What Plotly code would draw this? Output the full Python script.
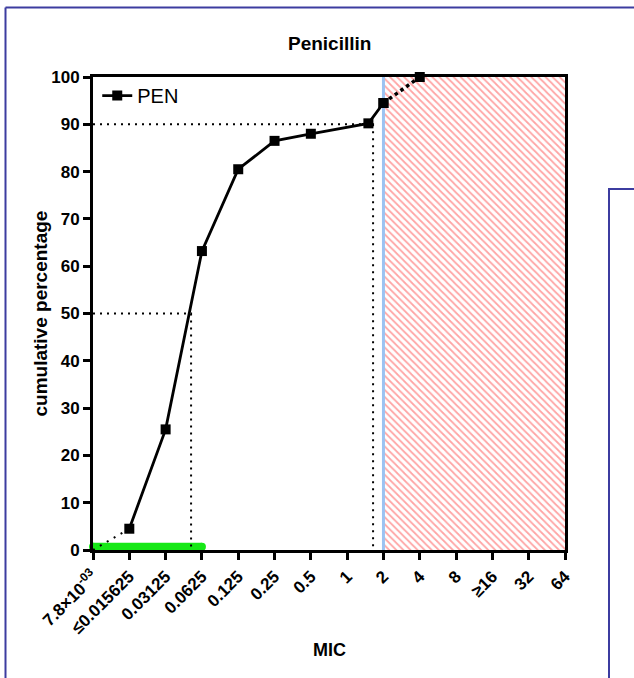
import math
import plotly.graph_objects as go

# MIC dilution steps shown on the x axis (log2 spacing)
mic_ticks = [0.0078125, 0.015625, 0.03125, 0.0625, 0.125, 0.25, 0.5, 1, 2, 4, 8, 16, 32, 64]
tick_labels = ["7.8×10<sup>-03</sup>", "≤0.015625", "0.03125", "0.0625", "0.125", "0.25",
               "0.5", "1", "2", "4", "8", "≥16", "32", "64"]

# Cumulative percentage of isolates for penicillin
pen_mic = [0.015625, 0.03125, 0.0625, 0.125, 0.25, 0.5, 1.5, 2]
pen_cum = [4.5, 25.5, 63.2, 80.5, 86.5, 88.0, 90.2, 94.5]
tail_mic = [2, 4]
tail_cum = [94.5, 100.0]

# MIC50 / MIC90 read-off values
mic50, mic90 = 0.0508, 1.64
breakpoint = 2
resistant_max = 64
green_range = [0.0078125, 0.0625]

FONT = "Liberation Sans, Arial"

fig = go.Figure()

# resistant region (hatched)
fig.add_trace(go.Scatter(
    x=[breakpoint, resistant_max, resistant_max, breakpoint, breakpoint],
    y=[0, 0, 100, 100, 0], mode="lines", line=dict(width=0),
    fill="toself", fillcolor="white",
    fillpattern=dict(shape="\\", fgcolor="#ff4a4a", bgcolor="white", size=5, solidity=0.35),
    showlegend=False, hoverinfo="skip"))

# breakpoint line
fig.add_trace(go.Scatter(x=[breakpoint, breakpoint], y=[0, 100], mode="lines",
                         line=dict(color="#9cc3f2", width=3), showlegend=False, hoverinfo="skip"))

# susceptible range bar along the axis (round ends)
fig.add_trace(go.Scatter(x=green_range, y=[0.7, 0.7], mode="lines+markers",
                         line=dict(color="#16e816", width=8),
                         marker=dict(symbol="circle", size=8, color="#16e816", line=dict(width=0)),
                         showlegend=False, hoverinfo="skip", cliponaxis=False))

# MIC50 / MIC90 guides
dot = dict(color="black", width=2, dash="2px,5px")
fig.add_trace(go.Scatter(x=[mic_ticks[0], mic50, mic50], y=[50, 50, 0], mode="lines",
                         line=dot, showlegend=False, hoverinfo="skip"))
fig.add_trace(go.Scatter(x=[mic_ticks[0], mic90, mic90], y=[90, 90, 0], mode="lines",
                         line=dot, showlegend=False, hoverinfo="skip"))

# extrapolation to the origin
fig.add_trace(go.Scatter(x=[mic_ticks[0], pen_mic[0]], y=[0, pen_cum[0]], mode="lines",
                         line=dict(color="black", width=2, dash="2px,6px"),
                         showlegend=False, hoverinfo="skip"))

# tail segment
fig.add_trace(go.Scatter(x=tail_mic, y=tail_cum, mode="lines+markers",
                         line=dict(color="black", width=3.5, dash="dot"),
                         marker=dict(symbol="square", size=10, color="black"),
                         showlegend=False, cliponaxis=False))

# main curve
fig.add_trace(go.Scatter(x=pen_mic, y=pen_cum, mode="lines+markers", name="PEN",
                         line=dict(color="black", width=2.8),
                         marker=dict(symbol="square", size=10, color="black"),
                         cliponaxis=False))

frame = "#3c3ca0"
W, H = 634, 678
L, R, T, B = 93, 69, 77, 128
pw, ph = W - L - R, H - T - B


def px(x):
    return (x - L) / pw


def py(y):
    return (H - B - y) / ph


shapes = [
    dict(type="line", xref="paper", yref="paper", x0=px(5.5), x1=px(650), y0=py(7.5), y1=py(7.5),
         line=dict(color=frame, width=2)),
    dict(type="line", xref="paper", yref="paper", x0=px(5.5), x1=px(5.5), y0=py(7.5), y1=py(700),
         line=dict(color=frame, width=2)),
    dict(type="rect", xref="paper", yref="paper", x0=px(609), x1=px(660), y0=py(189), y1=py(700),
         line=dict(color=frame, width=2), fillcolor="white"),
]

annotations = [
    dict(text="<b>Penicillin</b>", xref="paper", yref="paper", x=0.5, y=py(43),
         xanchor="center", yanchor="middle", showarrow=False,
         font=dict(size=19, color="black", family=FONT)),
    dict(text="<b>cumulative percentage</b>", xref="paper", yref="paper", x=px(40), y=0.5,
         xanchor="center", yanchor="middle", textangle=-90, showarrow=False,
         font=dict(size=19, color="black", family=FONT)),
    dict(text="<b>MIC</b>", xref="paper", yref="paper", x=0.5, y=py(650),
         xanchor="center", yanchor="middle", showarrow=False,
         font=dict(size=18, color="black", family=FONT)),
]

fig.update_layout(
    width=W, height=H, margin=dict(l=L, r=R, t=T, b=B),
    paper_bgcolor="white", plot_bgcolor="white",
    font=dict(family=FONT, color="black"),
    shapes=shapes, annotations=annotations,
    legend=dict(x=0.009, y=1.002, xanchor="left", yanchor="top", bgcolor="rgba(0,0,0,0)",
                font=dict(size=20, family=FONT, color="black"),
                itemwidth=30, tracegroupgap=0),
    xaxis=dict(type="log", range=[math.log10(mic_ticks[0]), math.log10(mic_ticks[-1])],
               tickvals=mic_ticks, ticktext=["<b>%s</b>" % t for t in tick_labels],
               tickangle=-45, tickfont=dict(size=17), showgrid=False, zeroline=False,
               showline=True, linecolor="black", linewidth=3, mirror=True,
               ticks="outside", ticklen=7, tickwidth=2.5, tickcolor="black"),
    yaxis=dict(range=[0, 100], tickvals=list(range(0, 101, 10)),
               ticktext=["<b>%d</b>" % v for v in range(0, 101, 10)],
               tickfont=dict(size=17), showgrid=False, zeroline=False,
               showline=True, linecolor="black", linewidth=3, mirror=True,
               ticks="outside", ticklen=7, tickwidth=2.5, tickcolor="black"),
)

fig.write_html("out.html")
